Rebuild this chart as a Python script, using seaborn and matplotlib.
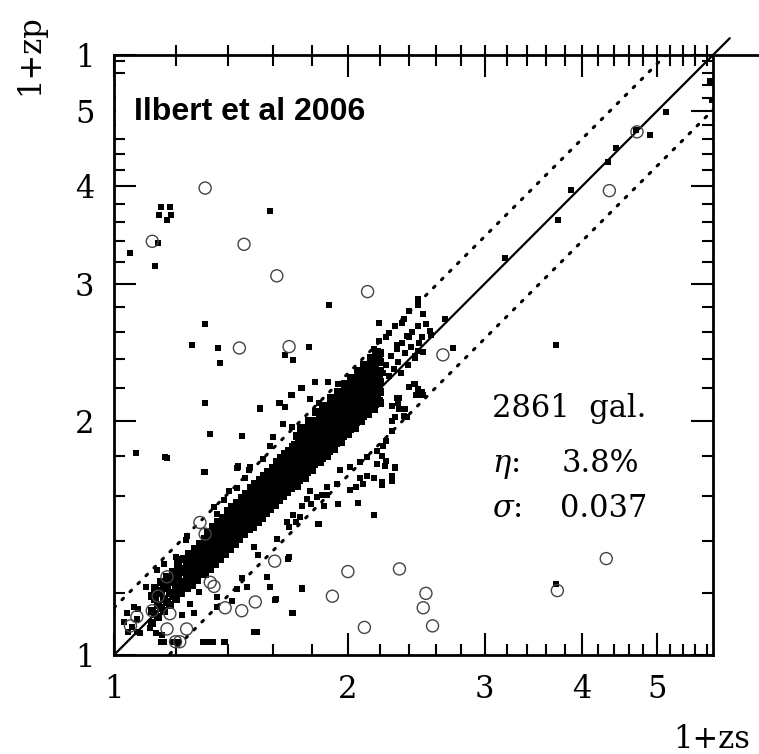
import numpy as np
import pandas as pd
import matplotlib
matplotlib.use("Agg")
import matplotlib.pyplot as plt
import seaborn as sns
from matplotlib.ticker import FixedLocator, FixedFormatter, NullFormatter
from matplotlib.lines import Line2D
from matplotlib.patches import Rectangle

# ---------------- data ----------------
# dense core of the zs/zp relation
core1_zs = [1.12,1.12,1.12, 1.13,1.13,1.13, 1.14,1.14,1.14, 1.15,1.15,1.15, 1.16,1.16,1.16,
            1.17,1.17,1.17, 1.18,1.18,1.18, 1.19,1.19,1.19, 1.20,1.20,1.20, 1.21,1.21,1.21,
            1.22,1.22,1.22, 1.23,1.23,1.23, 1.24,1.24,1.24, 1.25,1.25,1.25, 1.26,1.26,1.26,
            1.27,1.27,1.27, 1.28,1.28,1.28, 1.29,1.29,1.29, 1.30,1.30,1.30]
core1_zp = [1.10,1.14,1.19, 1.13,1.18,1.22, 1.12,1.16,1.21, 1.15,1.20,1.24, 1.14,1.18,1.23,
            1.17,1.22,1.26, 1.16,1.20,1.25, 1.19,1.24,1.28, 1.18,1.22,1.27, 1.21,1.26,1.31,
            1.20,1.24,1.29, 1.23,1.28,1.33, 1.22,1.26,1.31, 1.25,1.30,1.35, 1.23,1.29,1.34,
            1.27,1.32,1.37, 1.25,1.31,1.36, 1.29,1.34,1.39, 1.27,1.33,1.38]

core2_zs = [1.31]*4 + [1.32]*4 + [1.33]*4 + [1.34]*4 + [1.35]*4 + [1.36]*4 + [1.37]*4 + [1.38]*4 + \
           [1.39]*4 + [1.40]*4 + [1.41]*4 + [1.42]*4 + [1.43]*4 + [1.44]*4 + [1.45]*4 + [1.46]*4 + \
           [1.47]*4 + [1.48]*4 + [1.49]*4 + [1.50]*4 + [1.51]*4 + [1.52]*4 + [1.53]*4 + [1.54]*4 + \
           [1.55]*4 + [1.56]*4 + [1.57]*4 + [1.58]*4 + [1.59]*4 + [1.60]*4 + [1.61]*4 + [1.62]*4 + \
           [1.63]*4 + [1.64]*4 + [1.65]*4 + [1.66]*4 + [1.67]*4 + [1.68]*4 + [1.69]*4 + [1.70]*4
core2_zp = [1.27,1.32,1.36,1.41, 1.30,1.35,1.39,1.44, 1.29,1.34,1.38,1.43, 1.32,1.37,1.41,1.46,
            1.31,1.36,1.40,1.45, 1.34,1.39,1.43,1.48, 1.33,1.38,1.42,1.47, 1.36,1.41,1.46,1.50,
            1.35,1.40,1.45,1.49, 1.38,1.43,1.48,1.53, 1.37,1.42,1.47,1.52, 1.40,1.45,1.50,1.55,
            1.39,1.44,1.49,1.54, 1.42,1.47,1.52,1.57, 1.41,1.46,1.51,1.56, 1.44,1.49,1.54,1.59,
            1.43,1.48,1.53,1.58, 1.46,1.51,1.56,1.61, 1.45,1.50,1.55,1.60, 1.48,1.53,1.58,1.64,
            1.46,1.52,1.57,1.62, 1.50,1.55,1.60,1.66, 1.48,1.54,1.59,1.64, 1.52,1.57,1.62,1.68,
            1.50,1.56,1.61,1.67, 1.54,1.59,1.65,1.70, 1.52,1.58,1.63,1.69, 1.56,1.61,1.67,1.72,
            1.54,1.60,1.65,1.71, 1.58,1.63,1.69,1.74, 1.56,1.62,1.67,1.73, 1.60,1.65,1.71,1.77,
            1.58,1.64,1.70,1.75, 1.62,1.67,1.73,1.79, 1.60,1.66,1.72,1.77, 1.64,1.69,1.75,1.81,
            1.62,1.68,1.74,1.80, 1.65,1.71,1.77,1.83, 1.64,1.70,1.76,1.82, 1.67,1.73,1.79,1.85]

core3_zs = [1.72]*6 + [1.74]*6 + [1.76]*6 + [1.78]*6 + [1.80]*6 + [1.82]*6 + [1.84]*6 + \
           [1.86]*6 + [1.88]*6 + [1.90]*6 + [1.92]*6 + [1.94]*6 + [1.96]*6 + [1.98]*6 + \
           [2.00]*6 + [2.02]*6 + [2.04]*6 + [2.06]*6 + [2.08]*6 + [2.10]*6 + [2.12]*6 + \
           [2.14]*6 + [2.16]*6 + [2.18]*6 + [2.20]*6
core3_zp = [1.65,1.70,1.75,1.81,1.86,1.91, 1.70,1.75,1.80,1.85,1.91,1.96,
            1.69,1.74,1.80,1.85,1.90,1.95, 1.74,1.79,1.84,1.90,1.95,2.00,
            1.73,1.78,1.84,1.89,1.94,2.00, 1.77,1.83,1.88,1.94,1.99,2.05,
            1.77,1.82,1.88,1.93,1.99,2.04, 1.81,1.87,1.93,1.98,2.04,2.09,
            1.80,1.86,1.92,1.97,2.03,2.09, 1.85,1.91,1.97,2.02,2.08,2.14,
            1.84,1.90,1.96,2.02,2.07,2.13, 1.89,1.95,2.01,2.07,2.12,2.18,
            1.88,1.94,2.00,2.06,2.12,2.18, 1.93,1.99,2.05,2.11,2.17,2.23,
            1.92,1.98,2.04,2.10,2.16,2.22, 1.97,2.03,2.09,2.15,2.21,2.27,
            1.96,2.02,2.08,2.14,2.20,2.26, 2.01,2.07,2.13,2.19,2.26,2.32,
            2.00,2.06,2.12,2.18,2.25,2.31, 2.05,2.11,2.17,2.24,2.30,2.36,
            2.04,2.10,2.16,2.23,2.29,2.35, 2.09,2.15,2.21,2.28,2.34,2.41,
            2.07,2.14,2.20,2.27,2.33,2.40, 2.13,2.19,2.26,2.32,2.39,2.45,
            2.11,2.18,2.24,2.31,2.38,2.44]

core4_zs = [1.71]*5 + [1.73]*5 + [1.75]*5 + [1.77]*5 + [1.79]*5 + [1.81]*5 + [1.83]*5 + \
           [1.85]*5 + [1.87]*5 + [1.89]*5 + [1.91]*5 + [1.93]*5 + [1.95]*5 + [1.97]*5 + \
           [1.99]*5 + [2.01]*5 + [2.03]*5 + [2.05]*5 + [2.07]*5 + [2.09]*5 + [2.11]*5 + \
           [2.13]*5 + [2.15]*5 + [2.17]*5 + [2.19]*5
core4_zp = [1.66,1.71,1.76,1.81,1.86, 1.68,1.73,1.78,1.83,1.89, 1.70,1.75,1.80,1.86,1.91,
            1.72,1.77,1.82,1.88,1.93, 1.74,1.79,1.84,1.90,1.95, 1.76,1.81,1.86,1.92,1.97,
            1.78,1.83,1.88,1.94,1.99, 1.79,1.85,1.91,1.96,2.02, 1.81,1.87,1.93,1.98,2.04,
            1.83,1.89,1.95,2.00,2.06, 1.85,1.91,1.97,2.02,2.08, 1.87,1.93,1.99,2.05,2.10,
            1.89,1.95,2.01,2.07,2.13, 1.91,1.97,2.03,2.09,2.15, 1.93,1.99,2.05,2.11,2.17,
            1.95,2.01,2.07,2.13,2.19, 1.97,2.03,2.09,2.15,2.21, 1.99,2.05,2.11,2.17,2.23,
            2.01,2.07,2.13,2.19,2.26, 2.03,2.09,2.15,2.22,2.28, 2.05,2.11,2.17,2.24,2.30,
            2.07,2.13,2.19,2.26,2.32, 2.09,2.15,2.21,2.28,2.34, 2.10,2.17,2.24,2.30,2.37,
            2.12,2.19,2.26,2.32,2.39]

# sparser points around the core, inside / near the dotted lines
wing_zs = [1.815,1.886,1.944,1.745,1.693,1.787,1.837,1.635,1.540,1.652,1.693,1.735,1.600,1.587,
           1.557,1.496,1.445,1.474,1.438,
           1.954,2.010,2.070,2.115,2.180,2.220,2.240,2.280,2.160,2.050,2.090,1.935,1.878,1.824,
           1.787,1.745,1.700,1.668,
           1.164,1.307,1.442,1.490,1.386,1.405,1.345,1.236,1.201,1.230,1.160,1.137,1.098,1.061,
           1.040,1.030,1.056,1.071,
           1.575,1.590,1.485,1.440,1.460,1.530,1.513,1.620,1.713,1.680,1.748,1.613,1.697,1.515,
           1.389,1.320,1.148,1.160,1.358,1.287,1.267,1.224,1.154,1.131,
           1.700,1.745,1.833,1.865,2.060,1.676,1.616,1.417,1.356,1.252,1.113,1.075,1.070,1.043,
           1.080,1.240,1.216,1.234,1.316,1.410,1.356,1.330,1.340,1.210,1.190,1.300,1.385,1.527,
           2.070,2.115,2.210,2.280,2.300,2.230,2.180,2.210,1.940,1.880,1.850,1.836,1.770,1.795,
           1.735,1.680,2.010,2.160]
wing_zp = [2.240,2.240,2.230,2.205,2.160,2.130,2.110,2.110,2.075,1.982,1.962,1.953,1.903,1.857,
           1.785,1.743,1.743,1.690,1.640,
           1.726,1.742,1.768,1.795,1.830,1.857,1.885,1.941,1.690,1.642,1.660,1.660,1.642,1.594,
           1.626,1.556,1.511,1.480,
           1.795,1.717,1.742,1.726,1.580,1.626,1.548,1.404,1.336,1.330,1.310,1.285,1.223,1.153,
           1.131,1.103,1.087,1.070,
           1.260,1.223,1.223,1.217,1.254,1.343,1.376,1.410,1.480,1.336,1.217,1.176,1.131,1.071,
           1.040,1.040,1.040,1.040,1.153,1.205,1.131,1.125,1.061,1.066,
           1.133,1.220,1.474,1.556,1.567,1.330,1.180,1.173,1.188,1.162,1.082,1.147,1.114,1.071,
           1.066,1.424,1.330,1.330,1.445,1.503,1.518,1.040,1.040,1.040,1.040,1.040,1.040,1.071,
           1.690,1.696,1.655,1.675,1.740,1.750,1.760,1.800,1.564,1.603,1.603,1.474,1.587,1.564,
           1.503,1.460,1.630,1.514]

# upper end of the cloud (1+zs ~ 2.1 - 2.8)
tail_zs = [2.46,2.46,2.50,2.35,2.36,2.46,2.67,2.73,2.55,2.40,2.49,2.46,2.44,2.38,2.167,2.145,
           2.24,2.31,2.40,2.46,2.48,2.33,2.32,2.37,2.28,2.43,2.50,2.30,2.36,2.28,2.24,2.30,2.28,
           2.21,2.21,2.44,2.49,2.45,2.31,2.33,2.38,2.40,2.30,2.26,2.19,2.16,
           2.22,2.24,2.26,2.27,2.29,2.31,2.32,2.34,2.35,2.37,2.39,2.41,2.42,2.44,2.47,2.50,2.52,2.56]
tail_zp = [2.87,2.82,2.74,2.67,2.70,2.65,2.70,2.48,2.61,2.56,2.56,2.46,2.41,2.57,2.46,2.39,
           2.56,2.50,2.21,2.195,2.16,2.14,2.11,2.07,2.09,2.23,2.16,2.02,2.03,2.00,1.777,1.742,1.70,
           1.667,1.80,2.23,2.18,2.16,2.14,2.07,2.02,2.77,2.65,2.59,2.53,2.47,
           2.30,2.36,2.28,2.42,2.33,2.47,2.38,2.30,2.52,2.44,2.36,2.49,2.60,2.42,2.52,2.45,2.66,2.58]

# isolated small dots
iso_zs = [1.05,1.13,1.14,1.148,1.181,1.143,1.183,1.171,1.59,1.89,1.31,1.26,1.36,1.37,1.66,1.70,
          1.78,2.19,1.31,1.066,1.17,1.33,1.46,1.31,1.54,1.63,1.66,1.69,1.74,1.44,1.445,
          3.70,3.87,3.73,3.19,4.43,4.32,4.90,5.13,4.70,5.85,5.88,3.70]
iso_zp = [3.28,3.16,3.38,3.76,3.76,3.68,3.68,3.62,3.72,2.82,2.66,2.50,2.48,2.37,2.43,2.39,
          2.49,2.67,2.11,1.82,1.79,1.92,1.91,1.72,2.07,2.11,2.085,2.16,2.20,1.74,1.75,
          2.50,3.96,3.62,3.24,4.48,4.30,4.66,4.98,4.72,5.47,5.16,1.235]

# open circles
circ_zs = [1.31,1.12,1.47,1.62,2.12,1.45,1.68,2.65,4.71,4.34,2.33,2.52,2.50,2.57,3.72,4.30,
           1.29,1.31,1.61,2.00,1.91,2.10,1.52,1.46,1.39,1.33,1.345,1.24,1.17,1.18,1.17,1.14,
           1.12,1.07,1.05,1.20,1.215]
circ_zp = [3.98,3.40,3.37,3.07,2.93,2.48,2.49,2.43,4.70,3.95,1.29,1.20,1.15,1.09,1.21,1.33,
           1.48,1.43,1.32,1.28,1.19,1.085,1.17,1.14,1.15,1.24,1.225,1.08,1.08,1.13,1.26,1.19,
           1.14,1.12,1.09,1.04,1.04]

# reference lines: zp = zs and zp = zs +/- 0.15 (1+zs)
line_zs = [1.0, 6.2]
eta_frac = 0.15

tick_major = [1, 2, 3, 4, 5]
tick_labels = ["1", "2", "3", "4", "5"]
ytick_major = [1, 2, 3, 4, 5, 5.9]
ytick_labels = ["1", "2", "3", "4", "5", "1"]
tick_minor = [1.2, 1.4, 1.6, 1.8, 2.2, 2.4, 2.6, 2.8, 3.2, 3.4, 3.6, 3.8, 4.2, 4.4, 4.6, 4.8,
              5.2, 5.4, 5.6, 5.8]

# ---------------- figure ----------------
sns.set_style("ticks")
plt.rcParams["font.family"] = ["DejaVu Serif"]
plt.rcParams["mathtext.fontset"] = "dejavuserif"
plt.rcParams["text.color"] = "black"
plt.rcParams["axes.labelcolor"] = "black"
plt.rcParams["xtick.color"] = "black"
plt.rcParams["ytick.color"] = "black"
plt.rcParams["xtick.labelcolor"] = "black"
plt.rcParams["ytick.labelcolor"] = "black"

W, H = 759, 754
fig = plt.figure(figsize=(W / 100, H / 100), dpi=100)
ax = fig.add_axes([114 / W, 99 / H, 599 / W, 600 / H])

core = pd.DataFrame({
    "zs": core1_zs + core2_zs + core3_zs + core4_zs,
    "zp": core1_zp + core2_zp + core3_zp + core4_zp,
})
dots = pd.DataFrame({
    "zs": wing_zs + tail_zs + iso_zs,
    "zp": wing_zp + tail_zp + iso_zp,
})
circ = pd.DataFrame({"zs": circ_zs, "zp": circ_zp})

sns.scatterplot(data=core, x="zs", y="zp", marker="s", s=34, color="black",
                linewidth=0, ax=ax, zorder=3)
sns.scatterplot(data=dots, x="zs", y="zp", marker="s", s=15, color="black",
                linewidth=0, ax=ax, zorder=3)
sns.scatterplot(data=circ, x="zs", y="zp", marker="o", s=75, facecolors="none",
                edgecolor="#444444", linewidth=1.0, ax=ax, zorder=4)

lx = np.array(line_zs)
ax.plot(lx, lx, color="black", lw=1.6, clip_on=False, zorder=2)
ax.plot(lx, lx * (1 + eta_frac), color="black", lw=2.2, linestyle=(0, (0.7, 3.0)),
        dash_capstyle="round", zorder=2)
ax.plot(lx, lx * (1 - eta_frac), color="black", lw=2.2, linestyle=(0, (0.7, 3.0)),
        dash_capstyle="round", zorder=2)

ax.set_xscale("log")
ax.set_yscale("log")
ax.set_xlim(1, 5.9)
ax.set_ylim(1, 5.9)

ax.xaxis.set_major_locator(FixedLocator(tick_major))
ax.xaxis.set_major_formatter(FixedFormatter(tick_labels))
ax.xaxis.set_minor_locator(FixedLocator(tick_minor))
ax.xaxis.set_minor_formatter(NullFormatter())
ax.yaxis.set_major_locator(FixedLocator(ytick_major))
ax.yaxis.set_major_formatter(FixedFormatter(ytick_labels))
ax.yaxis.set_minor_locator(FixedLocator(tick_minor))
ax.yaxis.set_minor_formatter(NullFormatter())

ax.tick_params(which="major", direction="in", length=16, width=1.5, top=True, right=True,
               labelsize=22, pad=14, color="black", labelcolor="black")
ax.tick_params(which="minor", direction="in", length=8, width=1.5, top=True, right=True,
               color="black")
for sp in ax.spines.values():
    sp.set_linewidth(2.0)
    sp.set_color("black")
ax.set_xlabel("")
ax.set_ylabel("")

# little tick stubs above the top axis line
sec = ax.secondary_xaxis("top")
sec.xaxis.set_major_locator(FixedLocator(tick_major[1:]))
sec.xaxis.set_minor_locator(FixedLocator(tick_minor))
sec.xaxis.set_major_formatter(NullFormatter())
sec.xaxis.set_minor_formatter(NullFormatter())
sec.tick_params(which="both", direction="out", length=7, width=1.5, color="black")
sec.spines["top"].set_visible(False)

# top axis line continues to the right edge
fig.add_artist(Line2D([713 / W, 1.0], [(H - 55) / H] * 2, color="black", lw=2.0))

# white label box
ax.add_patch(Rectangle((0.004, 0.875), 0.43, 0.08, transform=ax.transAxes,
                       facecolor="white", edgecolor="none", zorder=5, clip_on=False))
ax.text(0.0334, 0.892, "Ilbert et al 2006", transform=ax.transAxes, fontsize=23,
        fontweight="bold", family=["Liberation Sans", "DejaVu Sans"], va="baseline",
        ha="left", zorder=6, color="black")

# statistics
ax.text(0.631, 0.396, "2861  gal.", transform=ax.transAxes, fontsize=22, va="baseline")
ax.text(0.631, 0.3055, r"$\eta$:", transform=ax.transAxes, fontsize=22, va="baseline")
ax.text(0.747, 0.3055, "3.8%", transform=ax.transAxes, fontsize=22, va="baseline")
ax.text(0.631, 0.2305, r"$\sigma$:", transform=ax.transAxes, fontsize=22, va="baseline")
ax.text(0.745, 0.2305, "0.037", transform=ax.transAxes, fontsize=22, va="baseline")

# axis labels
fig.text(30 / W, 1 - 55 / H, "1+zp", rotation=90, ha="center", va="center", fontsize=22)
fig.text(673 / W, 6 / H, "1+zs", ha="left", va="baseline", fontsize=22)

fig.savefig("out.png", dpi=100)
